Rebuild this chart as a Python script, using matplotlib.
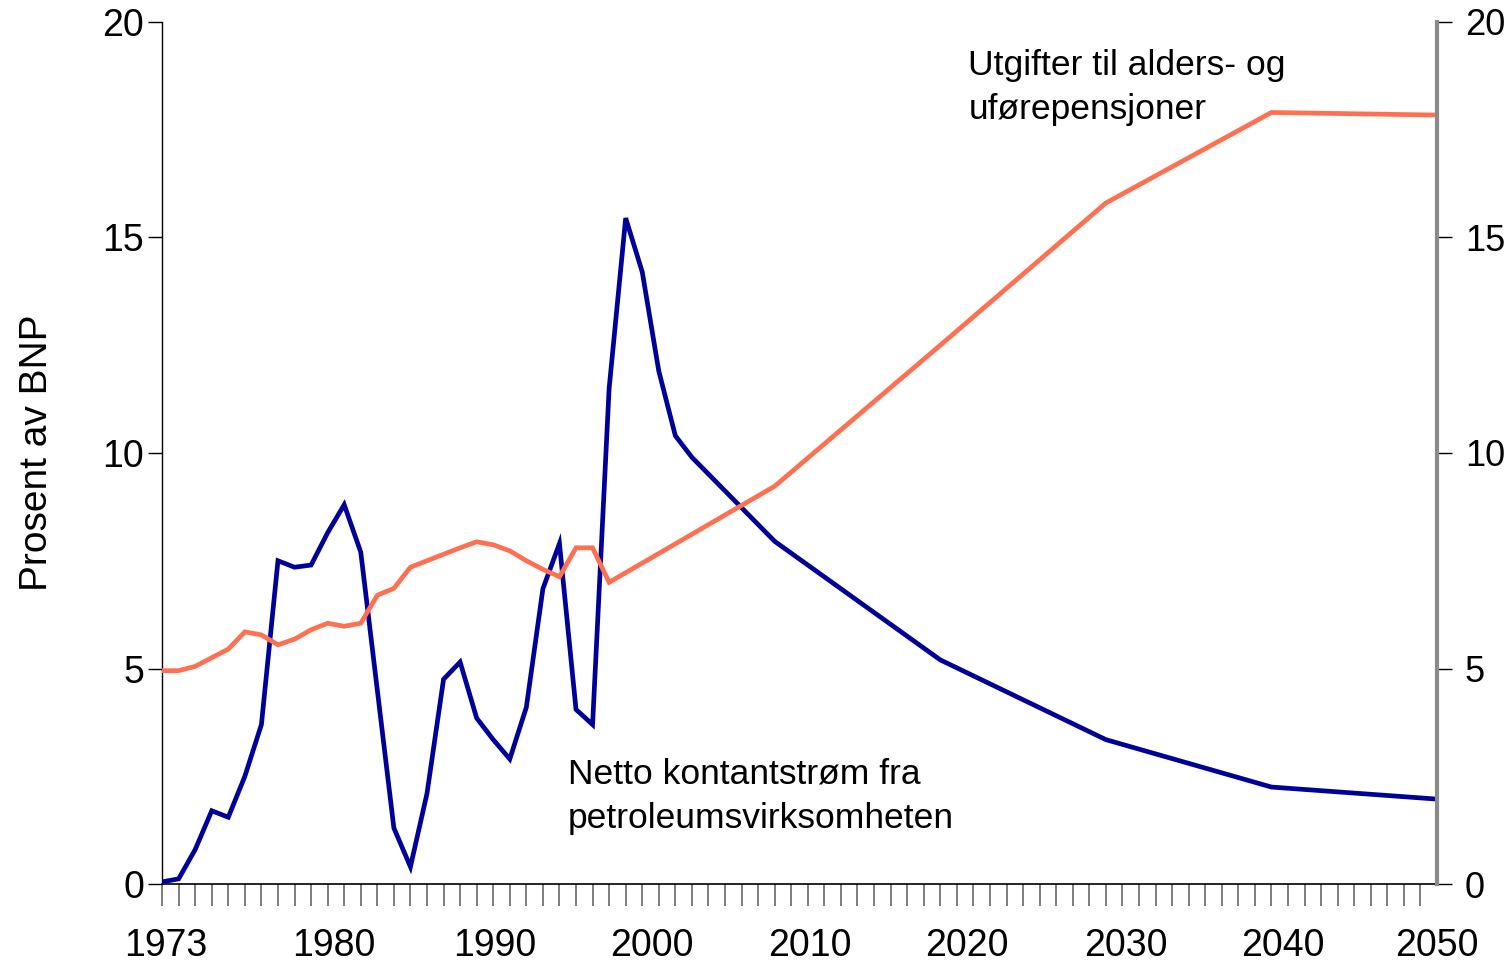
import matplotlib
matplotlib.use("Agg")
import matplotlib.pyplot as plt
from matplotlib.ticker import FixedLocator, NullFormatter

plt.rcParams['font.family'] = ['Liberation Sans', 'DejaVu Sans']

# Netto kontantstrøm fra petroleumsvirksomheten (prosent av BNP)
petro_years = list(range(1973, 2006)) + [2010, 2020, 2030, 2040, 2050]
petro_vals = [0.05, 0.12, 0.8, 1.7, 1.55, 2.5, 3.7, 7.5, 7.35, 7.4,
              8.15, 8.8, 7.7, 4.5, 1.3, 0.4, 2.1, 4.75, 5.15, 3.85,
              3.35, 2.9, 4.1, 6.85, 7.9, 4.05, 3.7, 11.5, 15.45, 14.2,
              11.9, 10.4, 9.9,
              7.95, 5.2, 3.35, 2.25, 1.97]

# Utgifter til alders- og uførepensjoner (prosent av BNP)
pension_years = list(range(1973, 2001)) + [2010, 2020, 2030, 2040, 2050]
pension_vals = [4.95, 4.95, 5.05, 5.25, 5.45, 5.85, 5.78, 5.55, 5.68, 5.9,
                6.05, 5.98, 6.05, 6.7, 6.86, 7.35, 7.5, 7.65, 7.8, 7.94,
                7.87, 7.73, 7.5, 7.3, 7.13, 7.8, 7.8, 7.0,
                9.23, 12.5, 15.8, 17.9, 17.84]

# year labels sit where the original chart put them
x_label_pos = [1973.2, 1983.4, 1993.1, 2002.6, 2012.1, 2021.6, 2031.2, 2040.7, 2050.0]
x_labels = ['1973', '1980', '1990', '2000', '2010', '2020', '2030', '2040', '2050']
y_ticks = [0, 5, 10, 15, 20]

fig = plt.figure(figsize=(15.09, 9.63), dpi=100)
ax = fig.add_axes([0.1074, 0.0820, 0.8449, 0.8952])

ax.plot(petro_years, petro_vals, color='#000099', lw=3.4, solid_joinstyle='miter', zorder=3)
ax.plot(pension_years, pension_vals, color='#FF7052', lw=3.4, solid_joinstyle='miter', zorder=3)

ax.set_xlim(1973, 2050)
ax.set_ylim(0, 20)

for s in ['top', 'right']:
    ax.spines[s].set_visible(False)
ax.spines['left'].set_linewidth(1.0)
ax.spines['bottom'].set_linewidth(1.2)

ax.set_yticks(y_ticks)
ax.set_yticklabels([str(v) for v in y_ticks], fontsize=27)
ax.tick_params(axis='y', direction='out', length=10, width=1.0, pad=3)

ax.xaxis.set_major_locator(FixedLocator(x_label_pos))
ax.set_xticklabels(x_labels, fontsize=27)
ax.xaxis.set_minor_locator(FixedLocator(list(range(1973, 2051))))
ax.xaxis.set_minor_formatter(NullFormatter())
ax.tick_params(axis='x', which='major', length=0, pad=32)
ax.tick_params(axis='x', which='minor', direction='out', length=16, width=1.2, color='#666666')

ax.set_ylabel('Prosent av BNP', fontsize=28, labelpad=34)

ax2 = ax.twinx()
ax2.set_ylim(0, 20)
for s in ['top', 'left', 'bottom']:
    ax2.spines[s].set_visible(False)
ax2.spines['right'].set_color('#8a8a8a')
ax2.spines['right'].set_linewidth(3.0)
ax2.set_yticks(y_ticks)
ax2.set_yticklabels([str(v) for v in y_ticks], fontsize=26)
ax2.tick_params(axis='y', direction='out', length=11, width=1.0, pad=9)

ax.text(2021.7, 18.47, 'Utgifter til alders- og\nuførepensjoner', fontsize=25.5,
        ha='left', va='center', linespacing=1.42)
ax.text(1997.5, 2.04, 'Netto kontantstrøm fra\npetroleumsvirksomheten', fontsize=25.5,
        ha='left', va='center', linespacing=1.42)

fig.savefig('out.png', dpi=100)
